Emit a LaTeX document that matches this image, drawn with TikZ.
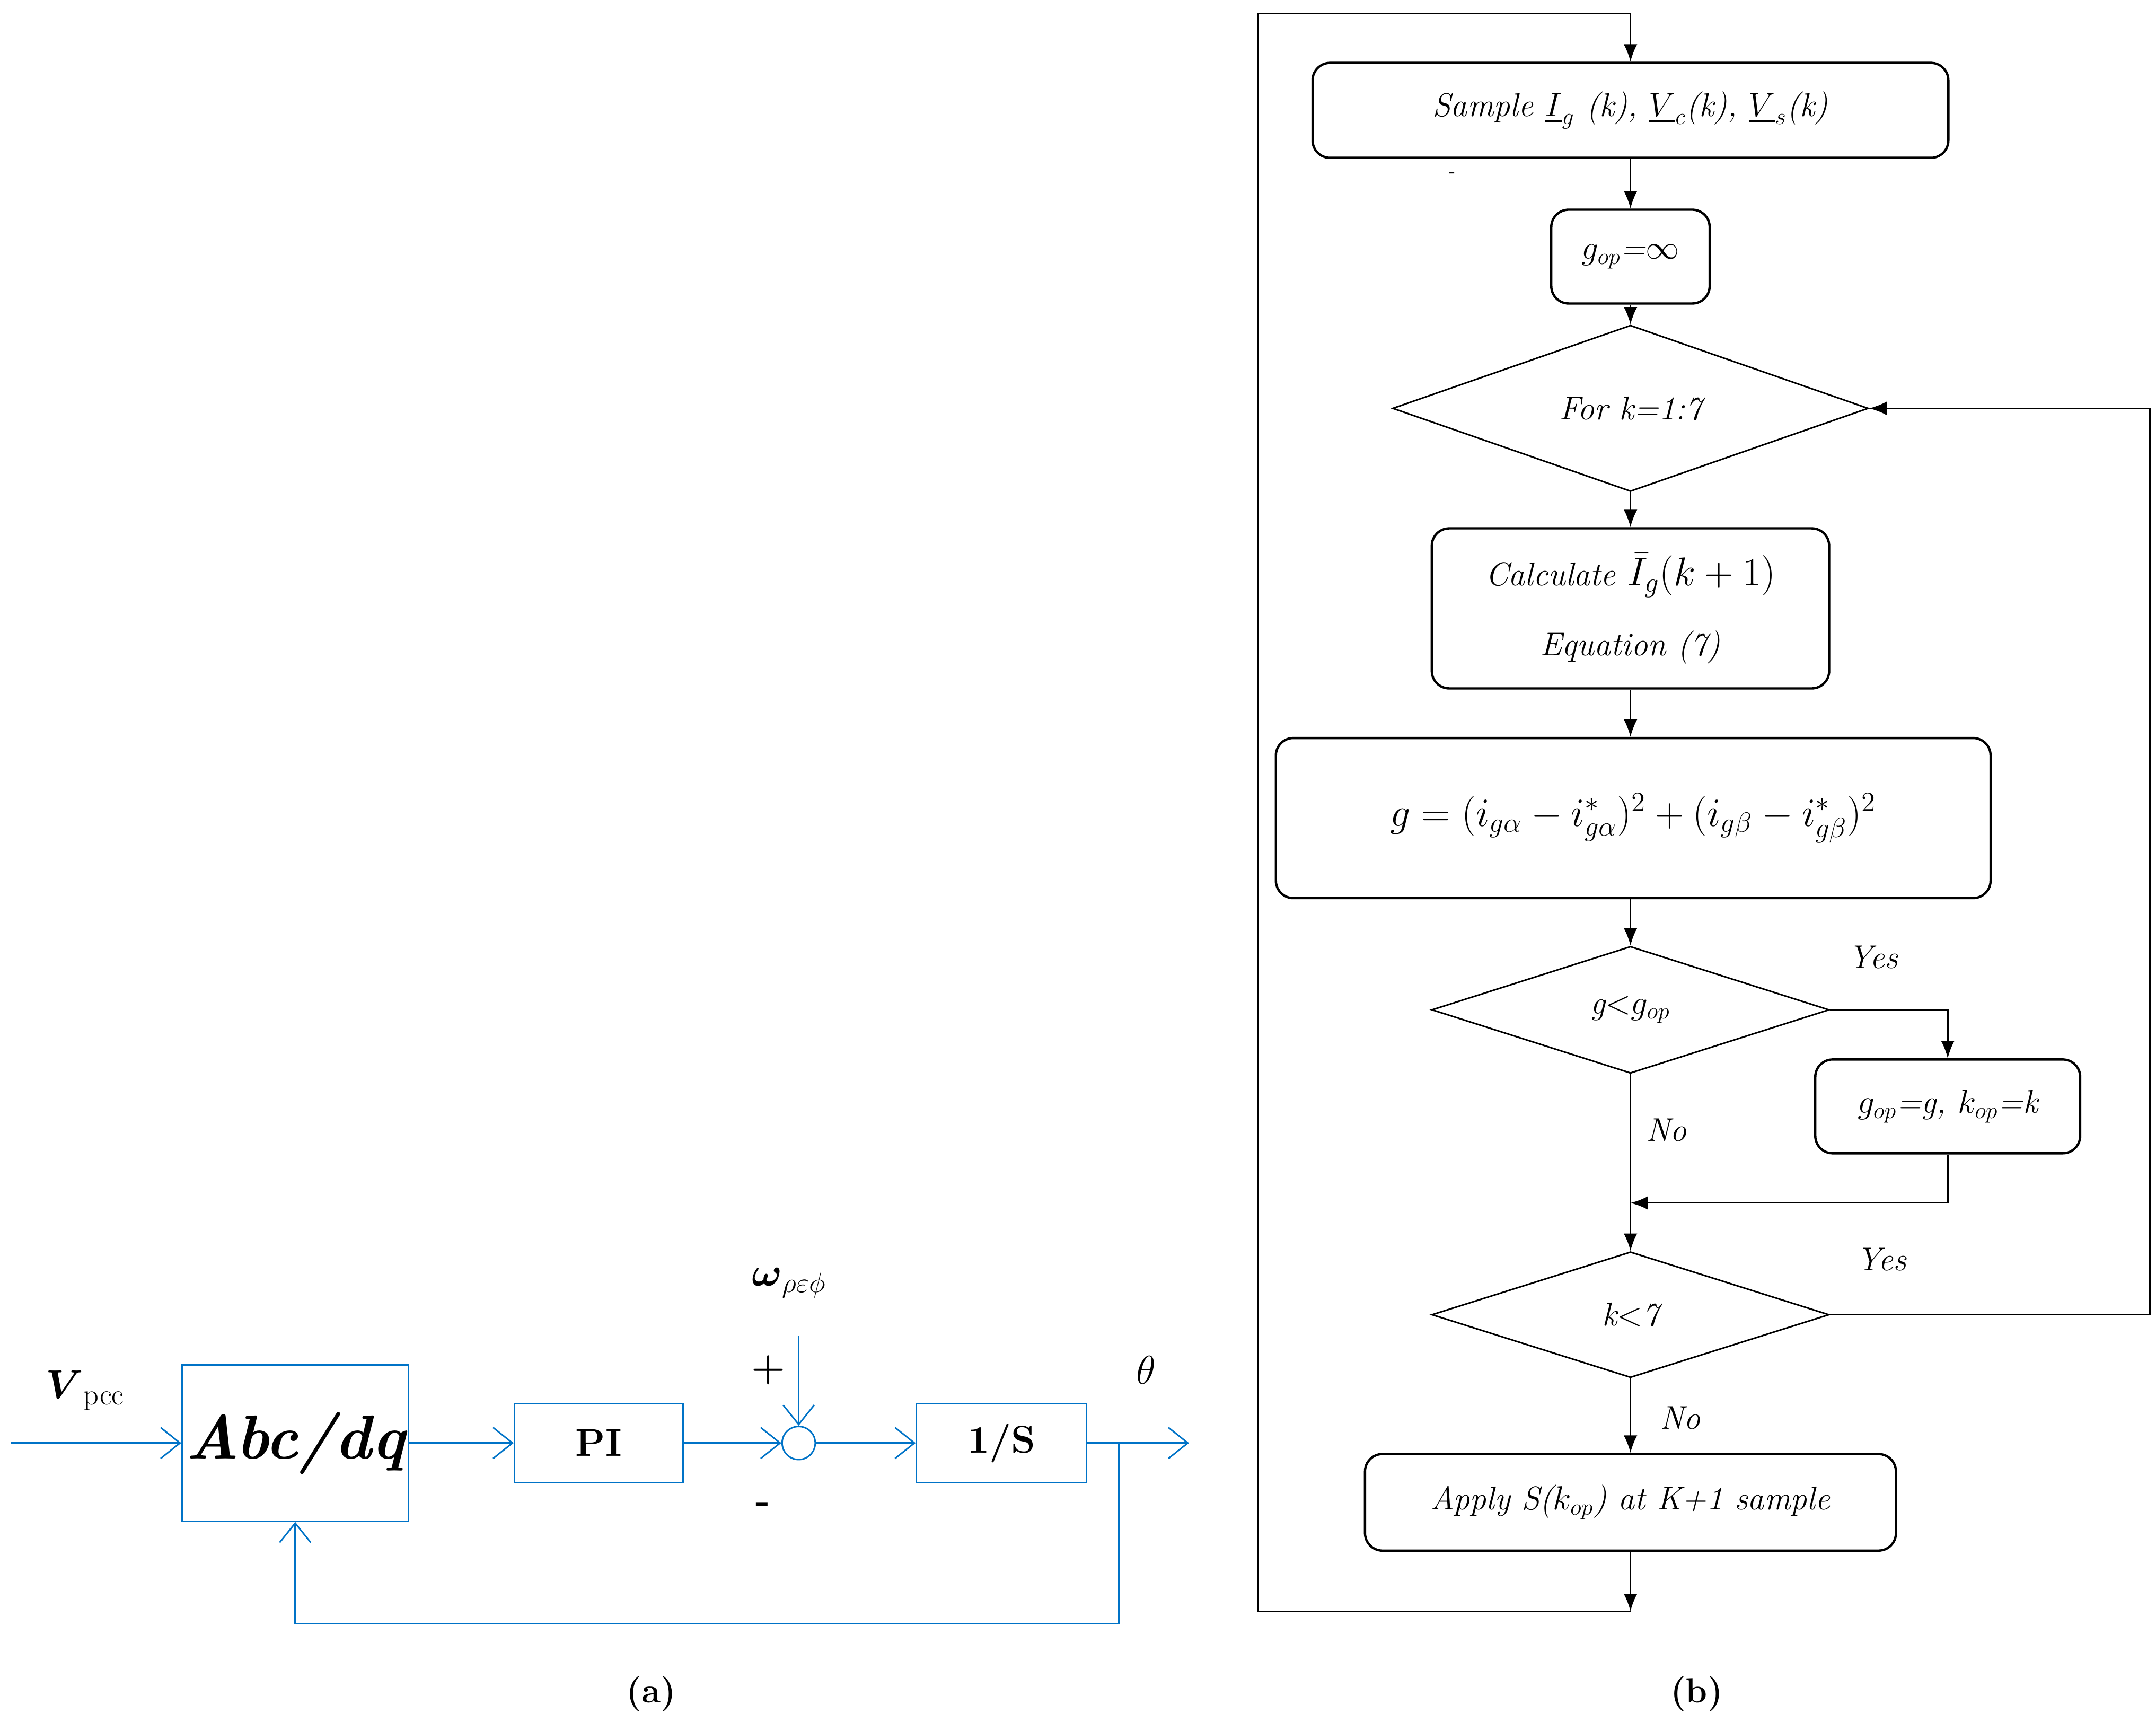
\documentclass[tikz,border=0pt]{standalone}
\usepackage{xcolor}
\definecolor{pllblue}{rgb}{0.0, 0.45, 0.78}
\usepackage{amsmath}
\usepackage{tikz}
\usetikzlibrary{positioning, arrows.meta, shapes.geometric}
\tikzset{
	block/.style={draw=pllblue, thick, inner sep=0pt},
	pllarrow/.style={draw=pllblue, thick, -{Straight Barb[length=10pt,width=16pt]}},
	process/.style={draw=black, very thick, rounded corners=9pt, inner sep=0pt, font=\fontsize{17}{20}\selectfont\itshape},
	decision/.style={draw=black, thick, diamond, inner sep=0pt, font=\fontsize{17}{20}\selectfont\itshape},
	flow/.style={draw=black, thick, -{Latex[length=9pt,width=7pt]}}
}
\begin{document}
\begin{tikzpicture}[x=0.025cm, y=-0.025cm]
		\useasboundingbox (0,0) rectangle (1563,1248);

		% (a) synchronisation loop
		\node[block, minimum width=4.1cm, minimum height=2.83cm, font=\fontsize{32}{36}\selectfont\bfseries\itshape] (abc) at (214,1046) {Abc/dq};
		\node[block, minimum width=3.05cm, minimum height=1.43cm, font=\fontsize{20}{24}\selectfont\bfseries] (pi) at (434,1046) {PI};
		\node[draw=pllblue, thick, circle, minimum size=0.6cm, inner sep=0pt] (sum) at (579,1046) {};
		\node[block, minimum width=3.08cm, minimum height=1.43cm, font=\fontsize{20}{24}\selectfont\bfseries] (int) at (726,1046) {1/S};
		\coordinate (vin) at (8,1046);
		\coordinate (wref) at (579,968);
		\coordinate (tap) at (811,1046);
		\coordinate (out) at (862,1046);
		\node (vpcc) at (62,1008) {\fontsize{22}{26}\selectfont$\boldsymbol{V}_{\text{pcc}}$};
		\node (wlabel) at (572,930) {\fontsize{22}{26}\selectfont$\boldsymbol{\omega}_{\rho\varepsilon\phi}$};
		\node (plus) at (557,993) {\fontsize{20}{24}\selectfont\textbf{+}};
		\node (minus) at (553,1093) {\fontsize{20}{24}\selectfont\textbf{-}};
		\node (theta) at (831,993) {\fontsize{22}{26}\selectfont$\theta$};
		\draw[pllarrow] (vin) -- (abc);
		\draw[pllarrow] (abc) -- (pi);
		\draw[pllarrow] (pi) -- (sum);
		\draw[pllarrow] (wref) -- (sum);
		\draw[pllarrow] (sum) -- (int);
		\draw[pllarrow] (int) -- (out);
		\draw[pllarrow] (tap) -- ++(0,131) -| (abc.south);
		\node (capa) at (472,1228) {\fontsize{18}{22}\selectfont\textbf{(a)}};

		% (b) predictive control flowchart
		\node[process, minimum width=11.52cm, minimum height=1.72cm] (sample) at (1182,80) {Sample $\underline{I}_g$ (k), $\underline{V}_c$(k), $\underline{V}_s$(k)};
		\node (dash) at (1053,127) {-};
		\node[process, minimum width=2.87cm, minimum height=1.7cm] (init) at (1182,186) {$g_{op}$=$\infty$};
		\node[decision, minimum width=8.62cm, minimum height=2.9cm] (loop) at (1182,296) {For k=1:7};
		\node[process, minimum width=7.2cm, minimum height=2.9cm, align=center] (pred) at (1182,441) {Calculate {\fontsize{20}{24}\selectfont$\bar{I}_g(k+1)$}\\[16pt] Equation (7)};
		\node[process, minimum width=12.95cm, minimum height=2.9cm, font=\fontsize{22}{26}\selectfont] (cost) at (1184,593) {$g=(i_{g\alpha}-i^*_{g\alpha})^2+(i_{g\beta}-i^*_{g\beta})^2$};
		\node[decision, minimum width=7.2cm, minimum height=2.3cm] (cmp) at (1182,732) {g$<$$g_{op}$};
		\node[process, minimum width=4.8cm, minimum height=1.7cm] (store) at (1412,802) {$g_{op}$=g, $k_{op}$=k};
		\node[decision, minimum width=7.2cm, minimum height=2.28cm] (last) at (1182,953) {k$<$7};
		\node[process, minimum width=9.62cm, minimum height=1.75cm] (apply) at (1182,1089) {Apply S($k_{op}$) at K+1 sample};
		\node (yes1) at (1358,694) {\fontsize{17}{20}\selectfont\itshape Yes};
		\node (no1) at (1208,819) {\fontsize{17}{20}\selectfont\itshape No};
		\node (yes2) at (1364,913) {\fontsize{17}{20}\selectfont\itshape Yes};
		\node (no2) at (1218,1028) {\fontsize{17}{20}\selectfont\itshape No};
		\coordinate (merge) at (1182,872);
		\coordinate (bottom) at (1182,1168);
		\draw[flow] (sample) -- (init);
		\draw[flow] (init) -- (loop);
		\draw[flow] (loop) -- (pred);
		\draw[flow] (pred.south) -- (pred.south |- cost.north);
		\draw[flow] (pred.south |- cost.south) -- (cmp.north);
		\draw[flow] (cmp.east) -| (store.north);
		\draw[thick] (cmp.south) -- (merge);
		\draw[flow] (store.south) |- (merge);
		\draw[flow] (merge) -- (last);
		\draw[flow] (last.east) -- ++(232,0) |- (loop.east);
		\draw[flow] (last) -- (apply);
		\draw[flow] (apply) -- (bottom);
		\draw[flow] (bottom) -- ++(-270,0) |- ++(270,-1158) -- (sample.north);
		\node (capb) at (1230,1228) {\fontsize{18}{22}\selectfont\textbf{(b)}};
	\end{tikzpicture}
\end{document}
